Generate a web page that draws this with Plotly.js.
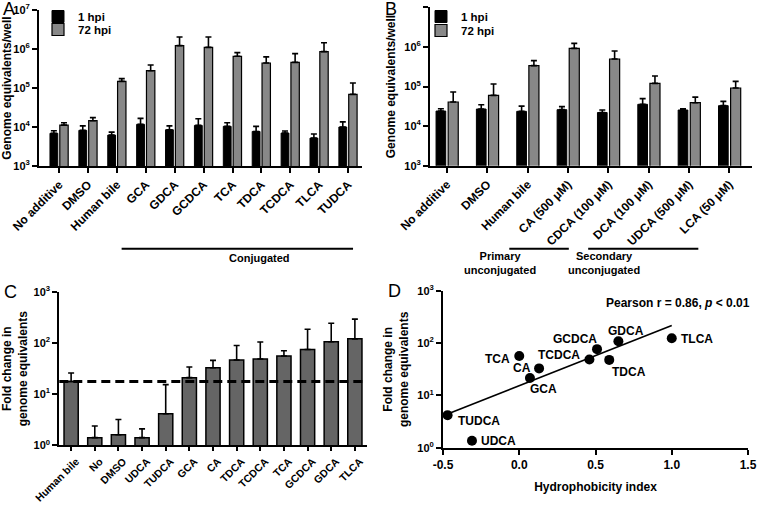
<!DOCTYPE html>
<html><head><meta charset="utf-8">
<script src="https://cdn.plot.ly/plotly-3.0.1.min.js"></script>
<style>html,body{margin:0;padding:0;background:#fff}#chart{width:757px;height:505px}</style>
</head><body><div id="chart"></div>
<script>
// ---------- DATA ----------
const catsA = ['No additive','DMSO','Human bile','GCA','GDCA','GCDCA','TCA','TDCA','TCDCA','TLCA','TUDCA'];
const a1 = [6900, 8200, 6200, 11700, 8500, 11000, 10400, 7700, 7000, 5200, 10000];
const a1Top = [8000, 10700, 7400, 16600, 10700, 16300, 12900, 10400, 7900, 6600, 13500];
const a72 = [11200, 14500, 148000, 278000, 1220000, 1100000, 649000, 437000, 455000, 855000, 68800];
const a72Top = [12900, 17400, 174000, 388000, 2030000, 2030000, 805000, 630000, 760000, 1450000, 134000];

const catsB = ['No additive','DMSO','Human bile','CA (500 μM)','CDCA (100 μM)','DCA (100 μM)','UDCA (500 μM)','LCA (50 μM)'];
const b1 = [24000, 27000, 23600, 26000, 22000, 35500, 25500, 32800];
const b1Top = [27500, 34600, 32000, 31000, 25500, 49500, 27500, 42000];
const b72 = [40600, 59800, 336000, 920000, 495000, 120000, 39000, 91600];
const b72Top = [72600, 116000, 450000, 1230000, 789000, 184000, 54000, 135000];

const catsC = ['Human bile','No','DMSO','UDCA','TUDCA','GCA','CA','TDCA','TCDCA','TCA','GCDCA','GDCA','TLCA'];
const foldC = [17.7, 1.41, 1.61, 1.41, 4.14, 21.1, 33, 46.7, 48.8, 55.8, 75, 106, 121];
const foldCTop = [26, 2.38, 3.2, 2.1, 15.4, 34, 46, 90, 105, 71, 187, 245, 294];
const bileRef = 17.7;

const namesD = ['TUDCA','UDCA','TCA','GCA','CA','TCDCA','GCDCA','TDCA','GDCA','TLCA'];
const hydroD = [-0.47, -0.31, 0, 0.07, 0.13, 0.46, 0.51, 0.59, 0.65, 1.0];
const foldD = [4.2, 1.36, 57, 21.6, 33, 49, 77, 48, 109, 125];
const fitX = [-0.47, 1.0];
const fitY = [4.4, 218];

const logTicks3to7 = [1e3, 1e4, 1e5, 1e6, 1e7];
const logText3to7 = ['10<sup>3</sup>','10<sup>4</sup>','10<sup>5</sup>','10<sup>6</sup>','10<sup>7</sup>'];
const logTicks0to3 = [1, 10, 100, 1000];
const logText0to3 = ['10<sup>0</sup>','10<sup>1</sup>','10<sup>2</sup>','10<sup>3</sup>'];

// ---------- STYLE ----------
const W = 757, H = 505;
const px = v => v / W, py = v => 1 - v / H;
const F = 'Liberation Sans, Arial, sans-serif';
const BLACK = '#000000', GREY = '#888888', CGREY = '#656565';
const bold = (s) => ({family: F, size: s, color: '#000', weight: 'bold'});

function ax(extra) {
  return Object.assign({
    showline: true, linecolor: '#000', linewidth: 2,
    ticks: 'outside', ticklen: 5, tickwidth: 2, tickcolor: '#000',
    showgrid: false, zeroline: false, fixedrange: true, automargin: false,
    tickfont: bold(11)
  }, extra);
}
const upErr = (v, top) => ({type: 'data', symmetric: false,
  array: v.map((x, i) => top[i] - x), arrayminus: v.map(() => 0),
  color: '#000', thickness: 1.6, width: 3});

const traces = [
  {type: 'bar', x: catsA, y: a1, name: '1 hpi', xaxis: 'x', yaxis: 'y', legend: 'legend',
   offset: -0.32, width: 0.27, marker: {color: BLACK, line: {color: '#000', width: 1}},
   error_y: upErr(a1, a1Top)},
  {type: 'bar', x: catsA, y: a72, name: '72 hpi', xaxis: 'x', yaxis: 'y', legend: 'legend3',
   offset: 0.02, width: 0.29, marker: {color: GREY, line: {color: '#000', width: 1.2}},
   error_y: upErr(a72, a72Top)},
  {type: 'bar', x: catsB, y: b1, name: '1 hpi', xaxis: 'x2', yaxis: 'y2', legend: 'legend2',
   offset: -0.27, width: 0.24, marker: {color: BLACK, line: {color: '#000', width: 1}},
   error_y: upErr(b1, b1Top)},
  {type: 'bar', x: catsB, y: b72, name: '72 hpi', xaxis: 'x2', yaxis: 'y2', legend: 'legend4',
   offset: 0.03, width: 0.25, marker: {color: GREY, line: {color: '#000', width: 1.2}},
   error_y: upErr(b72, b72Top)},
  {type: 'bar', x: catsC, y: foldC, xaxis: 'x3', yaxis: 'y3', showlegend: false,
   width: 0.6, marker: {color: CGREY, line: {color: '#000', width: 1.5}},
   error_y: upErr(foldC, foldCTop)},
  {type: 'scatter', mode: 'lines', x: fitX, y: fitY, xaxis: 'x4', yaxis: 'y4', showlegend: false,
   line: {color: '#000', width: 1.6}},
  {type: 'scatter', mode: 'markers', x: hydroD, y: foldD, xaxis: 'x4', yaxis: 'y4', showlegend: false,
   marker: {color: '#000', size: 10}}
];

// label offsets for panel D (style only)
const labD = {
  TUDCA: {xa: 'left', xs: 8, ys: -6}, UDCA: {xa: 'left', xs: 7, ys: 0},
  TCA: {xa: 'right', xs: -7, ys: -3}, CA: {xa: 'right', xs: -6, ys: 0},
  GCA: {xa: 'center', xs: 14, ys: -11}, TCDCA: {xa: 'right', xs: -7, ys: 4},
  GCDCA: {xa: 'right', xs: 2, ys: 10}, TDCA: {xa: 'left', xs: 1, ys: -12},
  GDCA: {xa: 'center', xs: 8, ys: 10}, TLCA: {xa: 'left', xs: 7, ys: -1}
};

const annotations = [
  {text: 'A', x: px(1), y: py(9), xref: 'paper', yref: 'paper', xanchor: 'left', yanchor: 'middle', showarrow: false, font: {family: F, size: 18, color: '#000'}},
  {text: 'B', x: px(383), y: py(9), xref: 'paper', yref: 'paper', xanchor: 'left', yanchor: 'middle', showarrow: false, font: {family: F, size: 18, color: '#000'}},
  {text: 'C', x: px(2), y: py(292), xref: 'paper', yref: 'paper', xanchor: 'left', yanchor: 'middle', showarrow: false, font: {family: F, size: 18, color: '#000'}},
  {text: 'D', x: px(386), y: py(291), xref: 'paper', yref: 'paper', xanchor: 'left', yanchor: 'middle', showarrow: false, font: {family: F, size: 18, color: '#000'}},
  {text: 'Conjugated', x: px(227), y: py(258), xref: 'paper', yref: 'paper', showarrow: false, font: bold(11)},
  {text: 'Primary<br>unconjugated', x: px(538), y: py(263), xref: 'paper', yref: 'paper', showarrow: false, font: bold(11)},
  {text: 'Secondary<br>unconjugated', x: px(642), y: py(263), xref: 'paper', yref: 'paper', showarrow: false, font: bold(11)},
  {text: 'Pearson r = 0.86, <i>p</i> < 0.01', x: px(752), y: py(303), xref: 'paper', yref: 'paper', xanchor: 'right', showarrow: false, font: bold(12)}
];
namesD.forEach((n, i) => {
  const s = labD[n];
  annotations.push({text: n, x: hydroD[i], y: Math.log10(foldD[i]), xref: 'x4', yref: 'y4',
    xanchor: s.xa, yanchor: 'middle', xshift: s.xs, yshift: s.ys, showarrow: false, font: bold(12)});
});

const shapes = [
  {type: 'line', xref: 'x', yref: 'paper', x0: 2.16, x1: 10.17, y0: py(248.7), y1: py(248.7), line: {color: '#000', width: 2}},
  {type: 'line', xref: 'x2', yref: 'paper', x0: 1.545, x1: 3.02, y0: py(248.7), y1: py(248.7), line: {color: '#000', width: 2}},
  {type: 'line', xref: 'x2', yref: 'paper', x0: 3.5, x1: 6.23, y0: py(248.7), y1: py(248.7), line: {color: '#000', width: 2}},
  {type: 'line', xref: 'x3 domain', yref: 'y3', x0: 0, x1: 1, y0: bileRef, y1: bileRef, line: {color: '#000', width: 3, dash: '9px,5px'}}
];

const legStyle = (x, y) => ({x: px(x), y: py(y), xanchor: 'left', yanchor: 'top', bgcolor: 'rgba(0,0,0,0)', font: bold(11.5)});

const layout = {
  width: W, height: H, margin: {l: 0, r: 0, t: 0, b: 0},
  paper_bgcolor: '#fff', plot_bgcolor: 'rgba(0,0,0,0)',
  barmode: 'overlay', font: {family: F, color: '#000'},
  xaxis: ax({domain: [px(39), px(362)], anchor: 'y', type: 'category', categoryarray: catsA, range: [-0.70, 10.48], tickangle: -45, tickfont: bold(12)}),
  yaxis: ax({domain: [py(166), py(10)], anchor: 'x', type: 'log', range: [3, 7], tickvals: logTicks3to7, ticktext: logText3to7,
    title: {text: 'Genome equivalents/well', font: bold(12), standoff: 6}}),
  xaxis2: ax({domain: [px(430), px(752)], anchor: 'y2', type: 'category', categoryarray: catsB, range: [-0.42, 7.56], tickangle: -45, tickfont: bold(12)}),
  yaxis2: ax({domain: [py(165.7), py(7.3)], anchor: 'x2', type: 'log', range: [3, 7], tickvals: logTicks3to7, ticktext: logText3to7,
    title: {text: 'Genome equivalents/well', font: bold(12), standoff: 6}}),
  xaxis3: ax({domain: [px(59.3), px(366.7)], anchor: 'y3', type: 'category', categoryarray: catsC, range: [-0.5, 12.5], tickangle: -45, ticklen: 4, tickfont: bold(10.5), ticklabelshift: 5}),
  yaxis3: ax({domain: [py(445.3), py(292)], anchor: 'x3', type: 'log', range: [0, 3], tickvals: logTicks0to3, ticktext: logText0to3,
    title: {text: 'Fold change in<br>genome equivalents', font: bold(12), standoff: 6}}),
  xaxis4: ax({domain: [px(443), px(748)], anchor: 'y4', range: [-0.5, 1.5], tickvals: [-0.5, 0, 0.5, 1, 1.5], ticktext: ['-0.5','0.0','0.5','1.0','1.5'],
    tickfont: bold(12), title: {text: 'Hydrophobicity index', font: bold(12), standoff: 12}}),
  yaxis4: ax({domain: [py(447.7), py(291)], anchor: 'x4', type: 'log', range: [0, 3], tickvals: logTicks0to3, ticktext: logText0to3,
    title: {text: 'Fold change in<br>genome equivalents', font: bold(12), standoff: 6}}),
  legend: legStyle(38, 2),
  legend3: legStyle(38, 15),
  legend2: legStyle(421, 2),
  legend4: legStyle(421, 16),
  annotations: annotations, shapes: shapes
};

Plotly.newPlot('chart', traces, layout, {displayModeBar: false, staticPlot: true});
</script></body></html>
